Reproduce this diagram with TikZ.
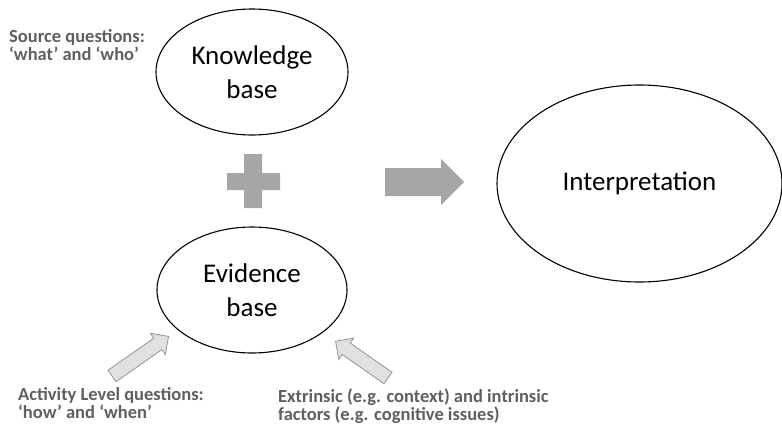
\documentclass[tikz,border=0pt]{standalone}
\usepackage{fontspec}
\setmainfont{Carlito}
\usetikzlibrary{shapes.geometric}
\definecolor{lblgray}{RGB}{95,95,95}
\definecolor{shapegray}{RGB}{166,166,166}
\definecolor{lightfill}{RGB}{224,224,224}
\definecolor{lightedge}{RGB}{150,150,150}
\tikzset{
  bubble/.style={ellipse, draw=black, line width=1.1pt, inner sep=0pt, align=center,
    font=\fontsize{27}{34}\selectfont},
  lbl/.style={anchor=base west, align=left, text=lblgray, inner sep=0pt,
    font=\bfseries\fontsize{18.5}{18}\selectfont},
  bigshape/.style={fill=shapegray, draw=none},
  smallarrow/.style={fill=lightfill, draw=lightedge, line width=0.8pt, line join=miter}
}
\begin{document}
\begin{tikzpicture}[x=1pt,y=-1pt]
\useasboundingbox (0,0) rectangle (782,429);
% ellipses
\node[bubble, minimum width=192pt, minimum height=126pt] (kb) at (252,72) {Knowledge\\base};
\node[bubble, minimum width=190pt, minimum height=126pt] (eb) at (252,290) {Evidence\\base};
\node[bubble, minimum width=285pt, minimum height=197pt] (interp) at (639.5,183.5) {Interpretation};
% labels (anchor on the baseline of the last line)
\node[lbl] (src) at (9,60) {Source questions:\\‘what’ and ‘who’};
\node[lbl] (act) at (18,418) {Activity Level questions:\\‘how’ and ‘when’};
\node[lbl] (ext) at (278,420) {Extrinsic (e.g. context) and intrinsic\\factors (e.g. cognitive issues)};
% plus sign
\fill[bigshape] (244,154) -- (262,154) -- (262,173) -- (280,173) -- (280,190) -- (262,190)
  -- (262,208) -- (244,208) -- (244,190) -- (227,190) -- (227,173) -- (244,173) -- cycle;
% big arrow
\fill[bigshape] (385,168) -- (441,168) -- (441,159) -- (464,182) -- (441,205) -- (441,196)
  -- (385,196) -- cycle;
% small arrows
\draw[smallarrow, shift={(112,376)}, rotate=35]
  (0,-7) -- (56,-7) -- (56,-13) -- (69,0) -- (56,13) -- (56,7) -- (0,7) -- cycle;
\draw[smallarrow, shift={(388,378)}, rotate=145]
  (0,-7) -- (51,-7) -- (51,-13) -- (64,0) -- (51,13) -- (51,7) -- (0,7) -- cycle;
\end{tikzpicture}
\end{document}
